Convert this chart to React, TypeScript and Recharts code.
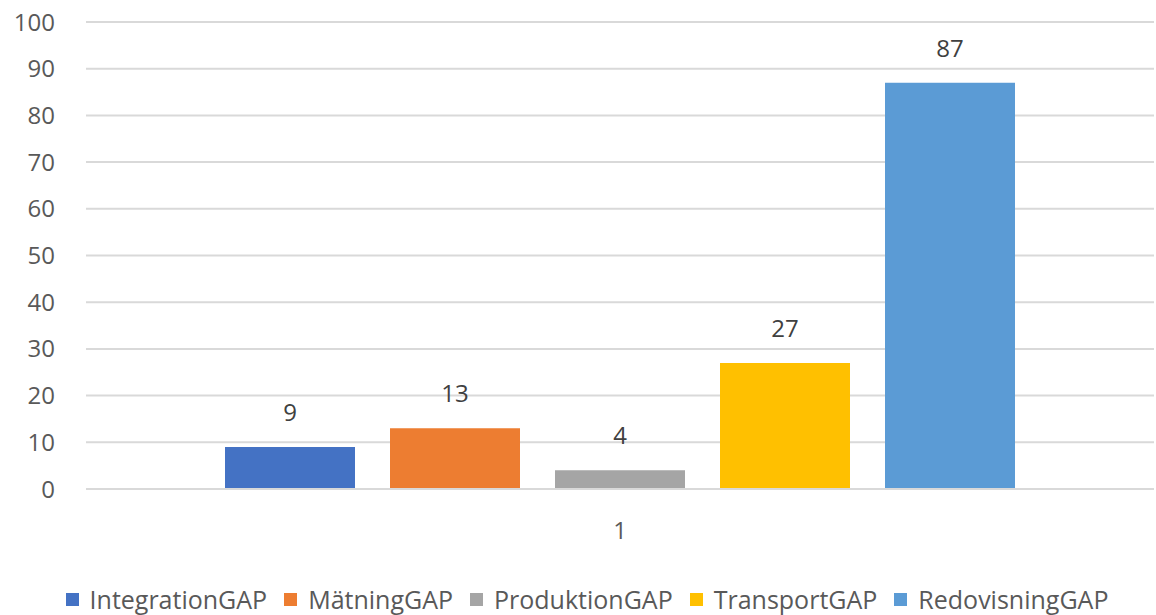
import React from 'react';
import { BarChart, Bar, XAxis, YAxis, CartesianGrid, Legend, LabelList } from 'recharts';

const categories = ['1'];
const seriesNames = ['IntegrationGAP', 'MätningGAP', 'ProduktionGAP', 'TransportGAP', 'RedovisningGAP'];
const seriesValues = [9, 13, 4, 27, 87];
const seriesColors = ['#4472C4', '#ED7D31', '#A5A5A5', '#FFC000', '#5B9BD5'];
const yTicks = [0, 10, 20, 30, 40, 50, 60, 70, 80, 90, 100];

const data = categories.map((name) => {
  const row: Record<string, string | number> = { name };
  seriesNames.forEach((s, i) => {
    row[s] = seriesValues[i];
  });
  return row;
});

const font = '"Open Sans", "Noto Sans", sans-serif';

const LegendContent = () => (
  <div style={{ display: 'flex', justifyContent: 'center', alignItems: 'center', gap: 17, fontFamily: font, height: 32, marginLeft: 20 }}>
    {seriesNames.map((s, i) => (
      <div key={s} style={{ display: 'flex', alignItems: 'center', gap: 11 }}>
        <div style={{ width: 13, height: 13, background: seriesColors[i] }} />
        <span style={{ fontSize: 25, lineHeight: '30px', color: '#595959' }}>{s}</span>
      </div>
    ))}
  </div>
);

const App = () => {
  return (
    <div style={{ position: 'absolute', left: 0, top: 0, background: '#fff' }}>
      <BarChart
        width={1156}
        height={615}
        data={data}
        margin={{ top: 22, right: 2, left: 0, bottom: 0 }}
        barSize={130}
        barGap={35}
      >
        <CartesianGrid vertical={false} stroke="#d9d9d9" strokeWidth={2} />
        <XAxis
          dataKey="name"
          axisLine={{ stroke: '#d9d9d9', strokeWidth: 2 }}
          tickLine={false}
          tickSize={0}
          tickMargin={33}
          height={94}
          tick={{ fill: '#595959', fontSize: 24, fontFamily: font }}
        />
        <YAxis
          domain={[0, 100]}
          ticks={yTicks}
          interval={0}
          width={86}
          axisLine={false}
          tickLine={false}
          tickSize={0}
          tickMargin={31}
          tick={{ fill: '#595959', fontSize: 24, fontFamily: font }}
        />
        <Legend verticalAlign="bottom" height={32} content={<LegendContent />} />
        {seriesNames.map((s, i) => (
          <Bar key={s} dataKey={s} fill={seriesColors[i]} isAnimationActive={false}>
            <LabelList
              dataKey={s}
              position="top"
              offset={26}
              style={{ fill: '#404040', fontSize: 24, fontFamily: font }}
            />
          </Bar>
        ))}
      </BarChart>
    </div>
  );
};

export default App;
